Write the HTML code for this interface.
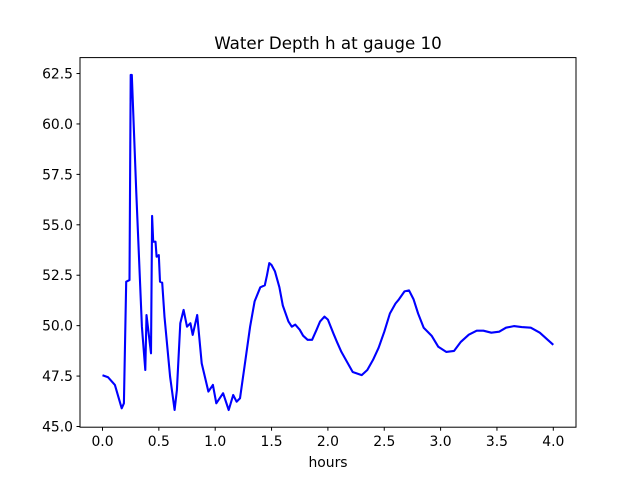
<!DOCTYPE html>
<html><head><meta charset="utf-8"><style>body{margin:0;background:#fff}svg{display:block;font-family:"DejaVu Sans","Liberation Sans",sans-serif}</style></head>
<body>
<svg id="chart" width="640" height="480" viewBox="0 0 640 480">
<rect width="640" height="480" fill="#fff"/>
<text x="328" y="49" text-anchor="middle" font-size="16.7">Water Depth h at gauge 10</text>
<text x="328" y="467" text-anchor="middle" font-size="13.9">hours</text>
<g id="ticks"></g>
<path id="line" fill="none" stroke="#0000ff" stroke-width="2.1" stroke-linejoin="round"/>
<rect x="80" y="57.6" width="496" height="369.6" fill="none" stroke="#000" stroke-width="1"/>
</svg>
<script>
const hours=[0,0.05,0.11,0.17,0.19,0.21,0.24,0.25,0.26,0.30,0.35,0.38,0.39,0.43,0.44,0.45,0.47,0.48,0.50,0.51,0.53,0.55,0.60,0.64,0.66,0.69,0.72,0.75,0.78,0.80,0.84,0.88,0.94,0.98,1.01,1.07,1.12,1.16,1.19,1.22,1.26,1.31,1.35,1.40,1.44,1.46,1.48,1.50,1.53,1.57,1.60,1.65,1.68,1.71,1.75,1.78,1.82,1.86,1.90,1.93,1.97,2.00,2.05,2.08,2.12,2.18,2.22,2.30,2.35,2.40,2.45,2.50,2.55,2.60,2.63,2.68,2.72,2.76,2.80,2.85,2.92,2.98,3.05,3.12,3.18,3.25,3.32,3.38,3.45,3.52,3.58,3.65,3.72,3.80,3.88,3.95,4.0];
const depth=[47.54,47.44,47.06,45.9,46.15,52.18,52.26,62.43,62.43,56.58,49.95,47.8,50.53,48.63,55.44,54.16,54.16,53.42,53.5,52.18,52.13,50.44,47.47,45.82,46.81,50.12,50.78,49.95,50.12,49.54,50.53,48.13,46.73,47.06,46.15,46.65,45.82,46.56,46.23,46.4,47.97,49.95,51.2,51.9,52.0,52.5,53.1,53.0,52.7,51.9,51.0,50.2,49.95,50.05,49.8,49.5,49.3,49.3,49.8,50.2,50.45,50.3,49.6,49.2,48.7,48.1,47.7,47.55,47.8,48.3,48.9,49.7,50.6,51.1,51.3,51.7,51.75,51.3,50.6,49.9,49.5,48.95,48.7,48.75,49.2,49.55,49.75,49.75,49.65,49.7,49.9,49.98,49.93,49.9,49.65,49.3,49.05];
const xTicks=[0,0.5,1,1.5,2,2.5,3,3.5,4];
const yTicks=[45,47.5,50,52.5,55,57.5,60,62.5];
const X=v=>102.5+v*112.7;
const Y=v=>426.5-(v-45)*20.17;
const ns="http://www.w3.org/2000/svg";
document.getElementById('line').setAttribute('d',hours.map((h,i)=>(i?'L':'M')+X(h).toFixed(1)+','+Y(depth[i]).toFixed(1)).join(''));
const g=document.getElementById('ticks');
function mk(t,a){const e=document.createElementNS(ns,t);for(const k in a)e.setAttribute(k,a[k]);g.appendChild(e);return e;}
xTicks.forEach(v=>{
 const l=mk('line',{x1:X(v),x2:X(v),y1:427.2,y2:430.7,stroke:'#000'});
 
 
 const t=mk('text',{x:X(v),y:446,'text-anchor':'middle','font-size':'13.9'});
 t.textContent=v.toFixed(1);
 
 
});
yTicks.forEach(v=>{
 const l=mk('line',{x1:76.5,x2:80,y1:Y(v),y2:Y(v),stroke:'#000'});
 
 
 const t=mk('text',{x:73,y:Y(v)+5,'text-anchor':'end','font-size':'13.9'});
 t.textContent=v.toFixed(1);
 
 
});
</script>
</body></html>
